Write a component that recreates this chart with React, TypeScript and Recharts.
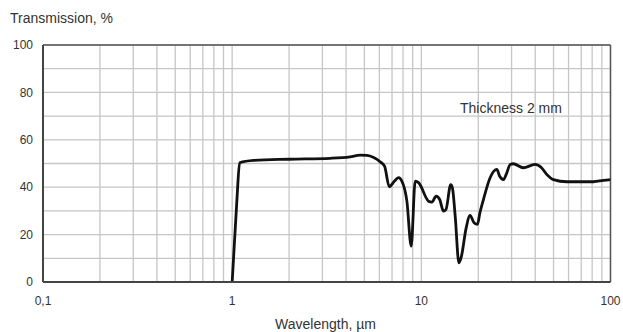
import React from "react";
import { LineChart, Line, XAxis, YAxis, CartesianGrid, ReferenceLine } from "recharts";

const wavelength = [1, 1.06, 1.095, 1.3, 2, 3.3, 4.2, 4.75, 5.16, 5.6, 6.06, 6.39, 6.77, 7.2, 7.57, 7.9, 8.39, 8.84, 9.28, 9.67, 10.91, 11.37, 11.97, 12.5, 13.1, 13.5, 14.3, 14.6, 15.1, 15.8, 16.3, 17.2, 18.1, 19.0, 19.8, 20.4, 21.3, 23.1, 25.1, 25.9, 27.2, 28.1, 29.5, 30.6, 34.6, 39.9, 43.2, 46.0, 49.9, 58.7, 70, 81.2, 91.9, 100];
const transmission = [0, 35, 50.3, 51.3, 51.8, 52.2, 52.8, 53.5, 53.4, 52.5, 50.7, 48.9, 40.2, 42.5, 44, 42.5, 34, 15.1, 42.5, 41.9, 34.1, 33.7, 36.2, 34.8, 29.9, 30.6, 41.1, 39.7, 27.8, 8.1, 10.9, 22.2, 28.1, 25, 24.3, 29.2, 34.8, 44, 47.5, 44.7, 43.2, 45.4, 49.6, 49.9, 48.2, 49.6, 48.2, 45.4, 43.2, 42.3, 42.3, 42.3, 42.9, 43.2];

const xTicks = [0.1, 0.2, 0.3, 0.4, 0.5, 0.6, 0.7, 0.8, 0.9, 1, 2, 3, 4, 5, 6, 7, 8, 9, 10, 20, 30, 40, 50, 60, 70, 80, 90, 100];
const xLabeled = [0.1, 1, 10, 100];
const yTicks = [0, 10, 20, 30, 40, 50, 60, 70, 80, 90, 100];
const yLabeled = [0, 20, 40, 60, 80, 100];

const data = wavelength.map((w, i) => ({ w, t: transmission[i] }));

const textColor = "#333";
const font = "'Liberation Sans', Arial, sans-serif";

export default function App() {
  return (
    <div style={{ position: "absolute", left: 0, top: 0, width: 623, height: 332, background: "#fff", fontFamily: font }}>
      <LineChart width={623} height={332} data={data} margin={{ top: 45, right: 12.5, bottom: 20, left: 0 }}>
        <CartesianGrid stroke="#c6c6c6" strokeWidth={1.3} />
        <XAxis
          dataKey="w"
          type="number"
          scale="log"
          domain={[0.1, 100]}
          allowDataOverflow
          ticks={xTicks}
          interval={0}
          height={30}
          tickLine={false}
          tickSize={0}
          tickMargin={14}
          axisLine={{ stroke: "#444", strokeWidth: 2 }}
          tick={{ fill: textColor, fontSize: 12, fontFamily: font }}
          tickFormatter={(v: number) => (xLabeled.some((l) => Math.abs(l - v) < 1e-9) ? String(v).replace(".", ",") : "")}
        />
        <YAxis
          type="number"
          domain={[0, 100]}
          ticks={yTicks}
          interval={0}
          width={43}
          tickLine={false}
          tickSize={0}
          tickMargin={10}
          axisLine={{ stroke: "#444", strokeWidth: 2 }}
          tick={{ fill: textColor, fontSize: 12, fontFamily: font }}
          tickFormatter={(v: number) => (yLabeled.includes(v) ? String(v) : "")}
        />
        <ReferenceLine y={100} stroke="#555" strokeWidth={1.5} ifOverflow="visible" />
        <ReferenceLine x={100} stroke="#555" strokeWidth={1.5} ifOverflow="visible" />
        <Line
          dataKey="t"
          type="monotone"
          stroke="#111"
          strokeWidth={2.8}
          dot={false}
          isAnimationActive={false}
        />
      </LineChart>
      <div style={{ position: "absolute", left: 10, top: 10, fontSize: 14, lineHeight: "16px", color: textColor, whiteSpace: "nowrap" }}>
        Transmission, %
      </div>
      <div style={{ position: "absolute", left: 275, top: 316, fontSize: 14, lineHeight: "16px", color: textColor, whiteSpace: "nowrap" }}>
        Wavelength, µm
      </div>
      <div style={{ position: "absolute", left: 460, top: 100, fontSize: 14, lineHeight: "16px", color: textColor, whiteSpace: "nowrap" }}>
        Thickness 2 mm
      </div>
    </div>
  );
}
